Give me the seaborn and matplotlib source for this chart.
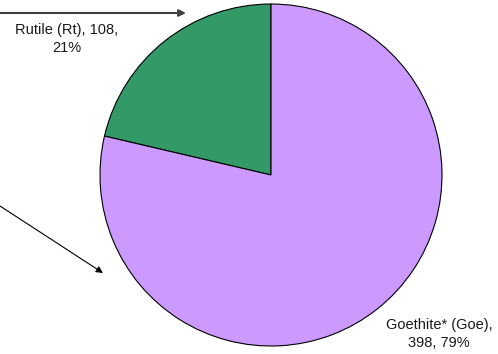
import matplotlib
matplotlib.use("Agg")
import matplotlib.pyplot as plt
import seaborn as sns

categories = ["Rutile (Rt)", "Goethite* (Goe)"]
values = [108, 398]
percents = ["21%", "79%"]
colors = ["#339966", "#CC99FF"]

sns.set_theme(style="white")
plt.rcParams['font.family'] = ['Liberation Sans', 'DejaVu Sans']

fig = plt.figure(figsize=(4.98, 3.54), dpi=100)
ax = fig.add_axes([0, 0, 1, 1])

ax.pie(values, colors=colors, startangle=90, counterclock=True,
       center=(271, 179), radius=171, frame=True,
       wedgeprops=dict(edgecolor='black', linewidth=0.8))
ax.set_xlim(0, 498)
ax.set_ylim(0, 354)
ax.set_aspect('equal')
ax.axis('off')

ax.text(67, 315, f"{categories[0]}, {values[0]},\n{percents[0]}", ha='center', va='center',
        fontsize=10.5, color='#1a1a1a', linespacing=1.3)
ax.text(439, 20, f"{categories[1]},\n{values[1]}, {percents[1]}", ha='center', va='center',
        fontsize=10.5, color='#1a1a1a', linespacing=1.3)

ax.annotate("", xy=(186, 341), xytext=(0, 341),
            arrowprops=dict(arrowstyle="-|>", color="#404040", lw=1.5,
                            mutation_scale=10, shrinkA=0, shrinkB=0))
ax.annotate("", xy=(103, 81), xytext=(0, 148),
            arrowprops=dict(arrowstyle="-|>", color="black", lw=0.8,
                            mutation_scale=10, shrinkA=0, shrinkB=0))

fig.savefig("out.png", dpi=100)
